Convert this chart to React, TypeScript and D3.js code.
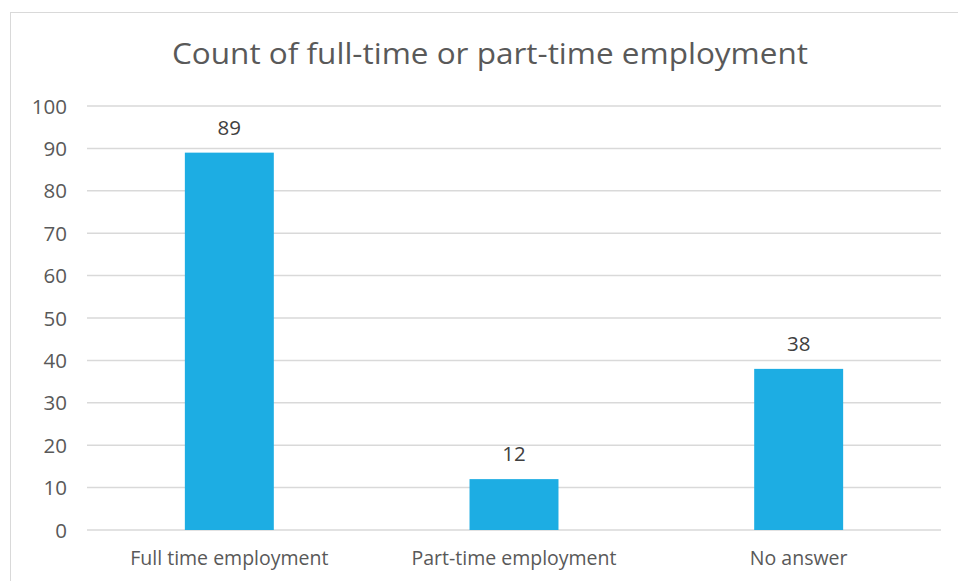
import React from "react";
import * as d3 from "d3";

const categories = ["Full time employment", "Part-time employment", "No answer"];
const values = [89, 12, 38];
const yTicks = [0, 10, 20, 30, 40, 50, 60, 70, 80, 90, 100];
const title = "Count of full-time or part-time employment";

export default function App() {
  const W = 958, H = 581;
  const left = 87, right = 941, top = 106, bottom = 530;
  const x = d3.scaleBand<string>().domain(categories).range([left, right]).paddingInner(0.6875).paddingOuter(0.34375);
  const y = d3.scaleLinear().domain([0, 100]).range([bottom, top]);
  const font = "'Open Sans', 'DejaVu Sans', sans-serif";
  const txt = "#595959";
  return (
    <svg width={W} height={H} style={{ position: "absolute", left: 0, top: 0, background: "#fff" }} fontFamily={font}>
      <rect x={10.5} y={12.5} width={980} height={600} fill="#fff" stroke="#d9d9d9" strokeWidth={1} />
      <text x={490} y={64} textAnchor="middle" fontSize={29} fill={txt} textLength={636} lengthAdjust="spacingAndGlyphs">{title}</text>
      {yTicks.map((t) => (
        <g key={t}>
          <line x1={left} x2={right} y1={y(t)} y2={y(t)} stroke="#d9d9d9" strokeWidth={1.5} />
          <text x={67} y={y(t) + 7.5} textAnchor="end" fontSize={20.5} fill={txt}>{t}</text>
        </g>
      ))}
      {categories.map((c, i) => (
        <g key={c}>
          <rect x={x(c)} y={y(values[i])} width={x.bandwidth()} height={y(0) - y(values[i])} fill="#1DADE3" />
          <text x={(x(c) as number) + x.bandwidth() / 2} y={y(values[i]) - 18} textAnchor="middle" fontSize={20.5} fill="#404040">{values[i]}</text>
          <text x={(x(c) as number) + x.bandwidth() / 2} y={565} textAnchor="middle" fontSize={19.5} fill={txt}>{c}</text>
        </g>
      ))}
    </svg>
  );
}
